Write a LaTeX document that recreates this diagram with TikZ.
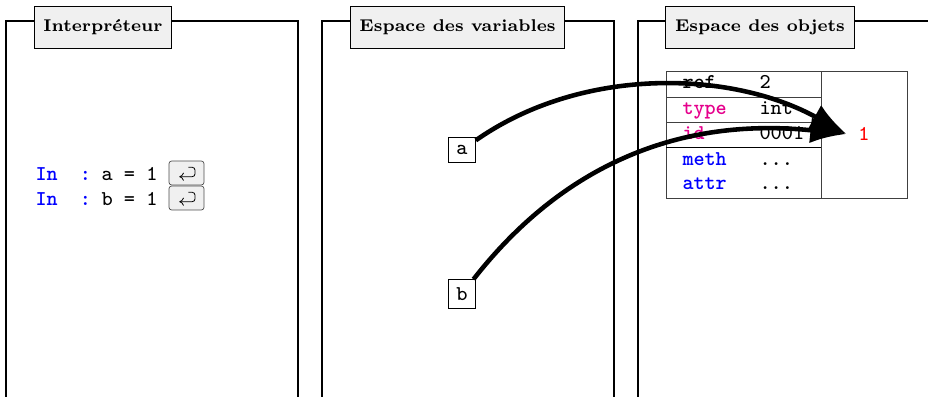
\documentclass[tikz,border=0pt]{standalone}
\usetikzlibrary{arrows.meta}
\definecolor{keypink}{rgb}{0.9,0,0.55}
\tikzset{
  frameline/.style={line width=1.25pt},
  titlebox/.style={draw, fill=black!6, line width=0.5pt, scale=1.385, minimum height=0.606cm, inner xsep=0.135cm, font=\scriptsize\bfseries},
  ttlabel/.style={anchor=base west, inner sep=0pt, scale=1.5, font=\footnotesize\ttfamily},
  keylabel/.style={ttlabel, font=\footnotesize\ttfamily\bfseries},
  entrykey/.style={draw=black!70, fill=black!6, rounded corners=1.5pt, line width=0.4pt, minimum width=0.7cm, minimum height=0.48cm, inner sep=0pt},
  enterglyph/.style={line width=0.45pt, rounded corners=1.6pt, -{To[length=2.6pt, width=4.6pt]}},
  tableline/.style={line width=0.5pt, draw=black!75},
  varbox/.style={draw, line width=0.5pt, scale=1.5, inner sep=2.87pt, font=\footnotesize\ttfamily},
  refline/.style={line width=2.6pt, -{Latex[length=0.72cm, width=0.52cm]}}
}
\begin{document}
\begin{tikzpicture}
\useasboundingbox (0,0) rectangle (18.56,7.94);

% ----------------------------------------------------
% 1. Interpreter
% ----------------------------------------------------
\begin{scope}
  \draw[frameline] (0.12,0) -- (0.12,7.52) -- (5.96,7.52) -- (5.96,0);
  \node[titlebox] (titleint) at (2.06,7.40) {Interpréteur};

  \node[keylabel, text=blue] (inA) at (0.70,4.32) {In\ \ :};
  \node[ttlabel] (cmdA) at (2.02,4.32) {a = 1};
  \node[entrykey] (keyA) at (3.73,4.48) {};
  \draw[enterglyph] ([shift={(0.036,0.114)}]keyA.center) -- ([shift={(0.17,0.114)}]keyA.center) -- ([shift={(0.17,-0.074)}]keyA.center) -- ([shift={(-0.144,-0.074)}]keyA.center);

  \node[keylabel, text=blue] (inB) at (0.70,3.82) {In\ \ :};
  \node[ttlabel] (cmdB) at (2.02,3.82) {b = 1};
  \node[entrykey] (keyB) at (3.73,3.98) {};
  \draw[enterglyph] ([shift={(0.036,0.114)}]keyB.center) -- ([shift={(0.17,0.114)}]keyB.center) -- ([shift={(0.17,-0.074)}]keyB.center) -- ([shift={(-0.144,-0.074)}]keyB.center);
\end{scope}

% ----------------------------------------------------
% 2. Variables
% ----------------------------------------------------
\begin{scope}
  \draw[frameline] (6.44,0) -- (6.44,7.52) -- (12.28,7.52) -- (12.28,0);
  \node[titlebox] (titlevar) at (9.15,7.40) {Espace des variables};

  \node[varbox] (a) at (9.24,4.94) {a};
  \node[varbox] (b) at (9.24,2.06) {b};
\end{scope}

% ----------------------------------------------------
% 3. Objects
% ----------------------------------------------------
\begin{scope}
  \draw[frameline] (12.76,0) -- (12.76,7.52) -- (18.56,7.52);
  \node[titlebox] (titleobj) at (15.2,7.40) {Espace des objets};

  \draw[tableline] (13.32,3.98) rectangle (18.14,6.52);
  \draw[tableline] (16.42,3.98) -- (16.42,6.52);
  \draw[tableline] (13.32,6.0) -- (16.42,6.0);
  \draw[tableline] (13.32,5.5) -- (16.42,5.5);
  \draw[line width=0.5pt] (13.32,5.0) -- (16.42,5.0);

  \node[keylabel] (lref) at (13.64,6.16) {ref};
  \node[ttlabel] (vref) at (15.18,6.16) {2};
  \node[keylabel, text=keypink] (ltype) at (13.64,5.65) {type};
  \node[ttlabel] (vtype) at (15.18,5.65) {int};
  \node[keylabel, text=keypink] (lid) at (13.64,5.15) {id};
  \node[ttlabel] (vid) at (15.18,5.15) {0001};
  \node[keylabel, text=blue] (lmeth) at (13.64,4.63) {meth};
  \node[ttlabel] (vmeth) at (15.18,4.63) {...};
  \node[keylabel, text=blue] (lattr) at (13.64,4.14) {attr};
  \node[ttlabel] (vattr) at (15.18,4.14) {...};

  \node[scale=1.5, font=\footnotesize\ttfamily, text=red, inner sep=0.153cm] (one) at (17.28,5.26) {1};
\end{scope}

% references
\draw[refline] (a) to[out=35, in=151, looseness=0.9] (one.west);
\draw[refline] (b) to[out=52, in=174] (one.west);

\end{tikzpicture}
\end{document}
